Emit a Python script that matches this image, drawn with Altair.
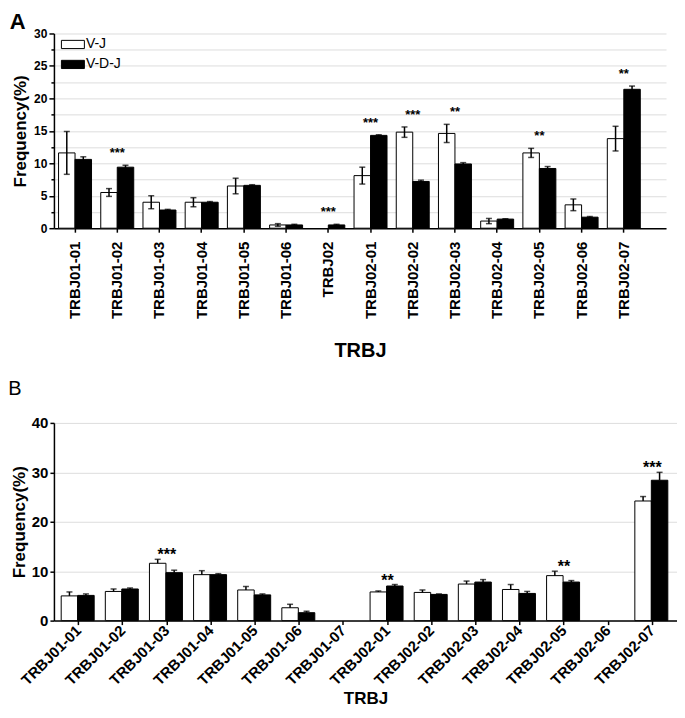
import altair as alt
import pandas as pd

SERIES = ["V-J", "V-D-J"]

# ---------------- Panel A data ----------------
CATS_A = ["TRBJ01-01", "TRBJ01-02", "TRBJ01-03", "TRBJ01-04", "TRBJ01-05", "TRBJ01-06", "TRBJ02",
          "TRBJ02-01", "TRBJ02-02", "TRBJ02-03", "TRBJ02-04", "TRBJ02-05", "TRBJ02-06", "TRBJ02-07"]
VJ_A = [11.6, 5.5, 4.0, 4.0, 6.5, 0.5, 0.0, 8.1, 14.8, 14.6, 1.1, 11.6, 3.6, 13.8]
VJ_ERR_A = [3.3, 0.6, 1.0, 0.7, 1.2, 0.2, 0.0, 1.3, 0.8, 1.4, 0.4, 0.7, 0.9, 1.9]
VDJ_A = [10.6, 9.4, 2.8, 4.0, 6.6, 0.5, 0.5, 14.3, 7.2, 9.9, 1.4, 9.2, 1.7, 21.4]
VDJ_ERR_A = [0.4, 0.3, 0.1, 0.1, 0.1, 0.1, 0.1, 0.1, 0.2, 0.2, 0.05, 0.3, 0.1, 0.5]
SIG_A = ["", "***", "", "", "", "", "***", "***", "***", "**", "", "**", "", "**"]

# ---------------- Panel B data ----------------
CATS_B = ["TRBJ01-01", "TRBJ01-02", "TRBJ01-03", "TRBJ01-04", "TRBJ01-05", "TRBJ01-06", "TRBJ01-07",
          "TRBJ02-01", "TRBJ02-02", "TRBJ02-03", "TRBJ02-04", "TRBJ02-05", "TRBJ02-06", "TRBJ02-07"]
VJ_B = [5.0, 5.9, 11.6, 9.3, 6.2, 2.6, 0.0, 5.8, 5.7, 7.4, 6.3, 9.1, 0.0, 24.2]
VJ_ERR_B = [0.8, 0.5, 0.8, 0.8, 0.7, 0.7, 0.0, 0.2, 0.5, 0.6, 1.0, 0.9, 0.0, 0.9]
VDJ_B = [5.1, 6.4, 9.7, 9.3, 5.2, 1.6, 0.0, 7.0, 5.3, 7.8, 5.5, 7.8, 0.0, 28.4]
VDJ_ERR_B = [0.3, 0.2, 0.5, 0.2, 0.2, 0.3, 0.0, 0.3, 0.1, 0.5, 0.4, 0.3, 0.0, 1.6]
SIG_B = ["", "", "***", "", "", "", "", "**", "", "", "", "**", "", "***"]

FONT = "Liberation Sans"


def long_df(cats, vj, vj_err, vdj, vdj_err, two_sided):
    rows = []
    for name, vals, errs in (("V-J", vj, vj_err), ("V-D-J", vdj, vdj_err)):
        for c, v, e in zip(cats, vals, errs):
            rows.append({"cat": c, "series": name, "value": v,
                         "lo": (v - e) if two_sided else v, "hi": v + e})
    return pd.DataFrame(rows)


def sig_df(cats, vj, vj_err, vdj, vdj_err, sig):
    rows = []
    for c, a, ae, b, be, s in zip(cats, vj, vj_err, vdj, vdj_err, sig):
        if s:
            rows.append({"cat": c, "sig": s, "top": max(a + ae, b + be)})
    return pd.DataFrame(rows)


def panel(cats, df, sdf, p):
    xscale = alt.Scale(domain=cats, paddingInner=0, paddingOuter=p["po"], align=p["align"])
    xaxis = alt.Axis(title="TRBJ", labelAngle=p["langle"], labelAlign="right", labelBaseline="middle",
                     labelFontSize=p["lfs"], labelFontWeight="bold", labelPadding=p["lpad"],
                     titleFontSize=p["tfs"], titleFontWeight="bold", titlePadding=p["tpad"],
                     tickSize=4, tickWidth=1.5, domainWidth=1.5, domainColor="black",
                     tickColor="black", labelColor="black", titleColor="black")
    x = alt.X("cat:N", scale=xscale, axis=xaxis)
    xo = alt.XOffset("series:N", sort=SERIES,
                     scale=alt.Scale(domain=SERIES, paddingInner=p["xpi"], paddingOuter=p["xpo"]))
    yaxis = alt.Axis(title="Frequency(%)", values=p["yvals"], labelExpr=p["lexpr"],
                     tickSize=p["ytick"], tickWidth=1.5, domainWidth=1.5,
                     labelFontSize=p["ylfs"], labelFontWeight="bold", labelPadding=2,
                     titleFontSize=17, titleFontWeight="bold", titlePadding=p["ytpad"],
                     domainColor="black", tickColor="black", labelColor="black", titleColor="black")
    yscale = alt.Scale(domain=[0, p["ymax"]], nice=False)

    base = alt.Chart(df).transform_filter("datum.value > 0")
    bars = base.mark_bar(stroke="black", strokeWidth=1).encode(
        x=x, xOffset=xo,
        y=alt.Y("value:Q", scale=yscale, axis=yaxis),
        fill=alt.Fill("series:N", sort=SERIES,
                      scale=alt.Scale(domain=SERIES, range=["white", "black"]),
                      legend=alt.Legend(title=None, orient="none", legendX=p["lgx"], legendY=p["lgy"],
                                        symbolType=p["sym"], symbolSize=p["ssize"],
                                        symbolStrokeColor="black", symbolStrokeWidth=1,
                                        labelFontSize=p["lgfs"], labelOffset=p["lgoff"],
                                        rowPadding=p["lgrow"], labelColor="black")),
    )
    err = base.mark_rule(color="black", strokeWidth=1.5).encode(
        x=x, xOffset=xo,
        y=alt.Y("lo:Q", scale=yscale, axis=yaxis), y2="hi:Q")
    cap_hi = base.mark_tick(color="black", thickness=1.5, size=p["cap"], orient="horizontal").encode(
        x=x, xOffset=xo, y=alt.Y("hi:Q", scale=yscale, axis=yaxis))
    layers = [bars, err, cap_hi]
    if p["two"]:
        cap_lo = base.mark_tick(color="black", thickness=1.5, size=p["cap"], orient="horizontal").encode(
            x=x, xOffset=xo, y=alt.Y("lo:Q", scale=yscale, axis=yaxis))
        layers.append(cap_lo)
    stars = alt.Chart(sdf).mark_text(fontWeight="bold", fontSize=p["sfs"], dy=p["sdy"],
                                     baseline="middle", color="black").encode(
        x=x, y=alt.Y("top:Q", scale=yscale, axis=yaxis), text="sig:N")
    layers.append(stars)
    return alt.layer(*layers).properties(
        width=p["w"], height=p["h"],
        title=alt.TitleParams(p["title"], anchor="start", frame="bounds", fontSize=p["titfs"],
                              fontWeight=p["titfw"], offset=p["titoff"], color="black", dx=-2))


df_a = long_df(CATS_A, VJ_A, VJ_ERR_A, VDJ_A, VDJ_ERR_A, True)
sdf_a = sig_df(CATS_A, VJ_A, VJ_ERR_A, VDJ_A, VDJ_ERR_A, SIG_A)
df_b = long_df(CATS_B, VJ_B, VJ_ERR_B, VDJ_B, VDJ_ERR_B, False)
sdf_b = sig_df(CATS_B, VJ_B, VJ_ERR_B, VDJ_B, VDJ_ERR_B, SIG_B)

params_a = dict(po=0.25, align=0, langle=270, lfs=15, lpad=9, tfs=20, tpad=22,
                xpi=0, xpo=0.28, yvals=[i * 2.5 for i in range(13)],
                lexpr="datum.value % 5 === 0 ? datum.label : ''",
                ytick={"condition": {"test": "datum.value % 5 === 0", "value": 5}, "value": 3},
                ylfs=12, ytpad=4, ymax=30,
                lgx=10, lgy=2, sym="M-1.4,-0.5H1.4V0.5H-1.4Z", ssize=270, lgfs=14, lgoff=4, lgrow=4,
                cap=6, two=True, sfs=13, sdy=-12, w=613, h=195,
                title="A", titfs=22, titfw="bold", titoff=-7)
params_b = dict(po=0.06, align=0.5, langle=315, lfs=15, lpad=3, tfs=17, tpad=3,
                xpi=0.29, xpo=0.46, yvals=[0, 10, 20, 30, 40],
                lexpr="datum.label", ytick=4, ylfs=15, ytpad=3, ymax=40,
                lgx=16, lgy=14, sym="M-1,-0.5H1V0.5H-1Z", ssize=484, lgfs=16, lgoff=11, lgrow=4,
                cap=6, two=False, sfs=16, sdy=-4, w=624, h=198,
                title="B", titfs=20, titfw="normal", titoff=17)

chart_a = panel(CATS_A, df_a, sdf_a, params_a)
chart_b = panel(CATS_B, df_b, sdf_b, params_b)

chart = alt.vconcat(chart_a, chart_b, spacing=18).properties(
    padding={"left": 0, "top": 3, "right": 0, "bottom": 0}
).configure(font=FONT).configure_view(strokeWidth=0)

chart.save("out.html", embed_options={"renderer": "svg", "actions": False})
